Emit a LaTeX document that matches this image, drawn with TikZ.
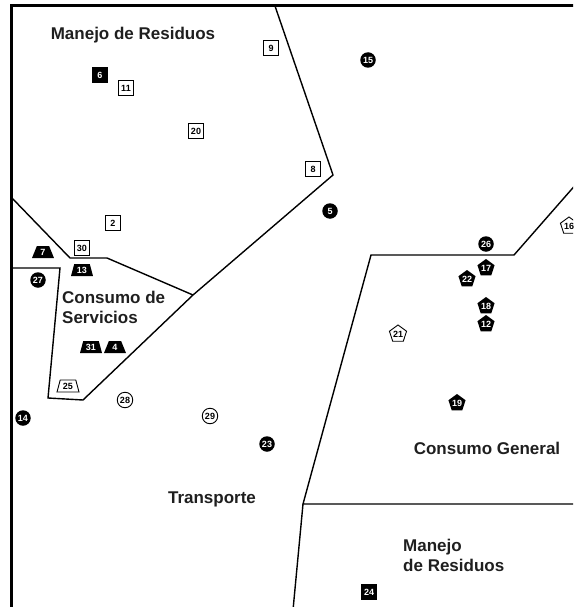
\documentclass[tikz,border=0pt]{standalone}
\usepackage{fontspec}
\setmainfont{Liberation Sans}
\usetikzlibrary{shapes.geometric}
\begin{document}
\begin{tikzpicture}[x=1pt,y=-1pt,
 lbl/.style={font=\fontsize{17}{20}\selectfont\bfseries, inner sep=0pt, text=black!88},
 mk/.style={inner sep=0pt, font=\fontsize{9}{9}\selectfont\bfseries},
 sqw/.style={mk, draw, line width=1pt, fill=white, minimum size=14.5pt},
 sqb/.style={mk, fill=black, text=white, minimum size=15.5pt},
 trb/.style={mk, trapezium, trapezium stretches=true, trapezium angle=72, minimum width=22pt, minimum height=12pt, fill=black, text=white},
 trw/.style={trb, fill=white, text=black, draw, line width=0.9pt},
 cib/.style={mk, circle, fill=black, text=white, minimum size=15.5pt},
 ciw/.style={mk, circle, draw, line width=0.9pt, minimum size=15.5pt},
 peb/.style={mk, regular polygon, regular polygon sides=5, fill=black, text=white, minimum size=18pt},
 pew/.style={peb, fill=white, text=black, draw, line width=0.9pt},
 bd/.style={line width=1.4pt, line join=miter}
]
\useasboundingbox (0,0) rectangle (573,607);
\clip (0,0) rectangle (573,607);
% frame
\coordinate (fTR) at (575,6);
\coordinate (fTL) at (11,6);
\coordinate (fBL) at (11,612);
\draw[line width=3pt] (fTR) -- (fTL) -- (fBL);
% region boundaries
\coordinate (a1) at (275,6);
\coordinate (a2) at (333,175);
\coordinate (a3) at (193,295);
\coordinate (a4) at (83,400);
\coordinate (a5) at (48,398);
\coordinate (a6) at (60,268);
\coordinate (a7) at (11,268);
\coordinate (b1) at (11,197);
\coordinate (b2) at (70,258);
\coordinate (b3) at (107,258);
\draw[bd] (a1) -- (a2) -- (a3) -- (a4) -- (a5) -- (a6) -- (a7);
\draw[bd] (b1) -- (b2) -- (b3) -- (a3);
\coordinate (c1) at (578,182);
\coordinate (c2) at (514,255);
\coordinate (c3) at (371,255);
\coordinate (c4) at (303,504);
\coordinate (c5) at (578,504);
\coordinate (c6) at (293,610);
\draw[bd] (c1) -- (c2) -- (c3) -- (c4) -- (c5);
\draw[bd] (c4) -- (c6);
% labels
\node[lbl] (lMR) at (133,35) {Manejo de Residuos};
\node[lbl, align=left, anchor=west] (lCS) at (62,307) {Consumo de\\Servicios};
\node[lbl] (lT) at (212,499) {Transporte};
\node[lbl] (lCG) at (487,448) {Consumo General};
\node[lbl, align=left, anchor=west] (lMR2) at (403,555) {Manejo\\de Residuos};
% squares
\node[sqw] (n9) at (271,48) {9};
\node[sqb] (n6) at (100,75) {6};
\node[sqw] (n11) at (126,88) {11};
\node[sqw] (n20) at (196,131) {20};
\node[sqw] (n8) at (313,169) {8};
\node[sqw] (n2) at (113,223) {2};
\node[sqw] (n30) at (82,248) {30};
\node[sqb] (n24) at (369,592) {24};
% trapezia
\node[trb] (n7) at (43,252) {7};
\node[trb] (n13) at (82,270) {13};
\node[trb] (n31) at (91,347) {31};
\node[trb] (n4) at (115,347) {4};
\node[trw] (n25) at (68,386) {25};
% circles
\node[cib] (n15) at (368,60) {15};
\node[cib] (n5) at (330,211) {5};
\node[cib] (n27) at (38,280) {27};
\node[cib] (n14) at (23,418) {14};
\node[ciw] (n28) at (125,400) {28};
\node[ciw] (n29) at (210,416) {29};
\node[cib] (n23) at (267,444) {23};
\node[cib] (n26) at (486,244) {26};
% pentagons
\node[peb] (n17) at (486,268) {17};
\node[peb] (n22) at (467,279) {22};
\node[peb] (n18) at (486,306) {18};
\node[peb] (n12) at (486,324) {12};
\node[pew] (n21) at (398,334) {21};
\node[peb] (n19) at (457,403) {19};
\node[pew] (n16) at (569,226) {16};
\end{tikzpicture}
\end{document}
